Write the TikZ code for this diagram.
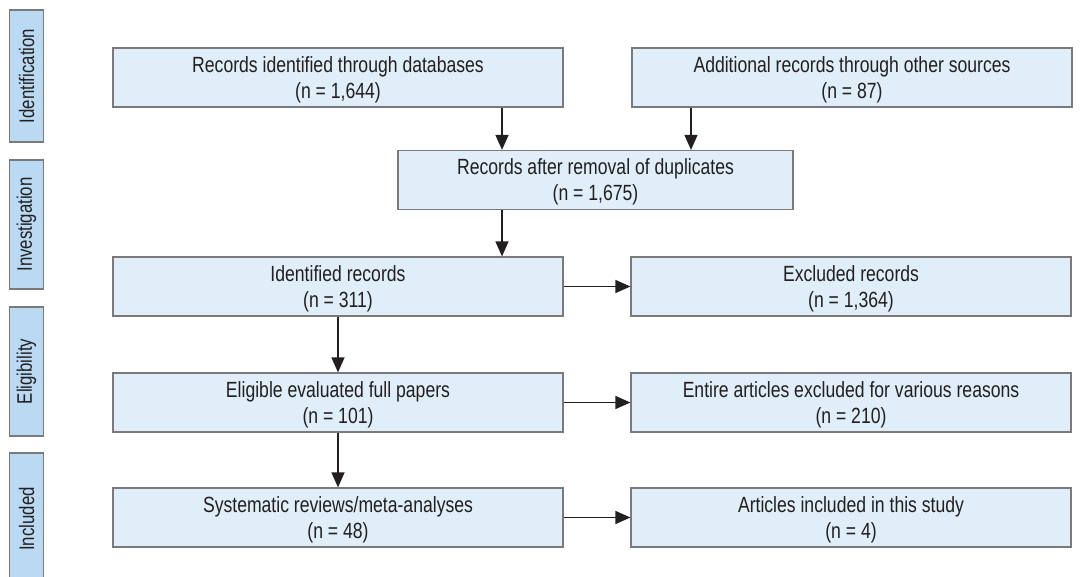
\documentclass[tikz,border=0pt]{standalone}
\usepackage{fontspec}
\setmainfont{Liberation Sans}[FakeStretch=0.8]
\usetikzlibrary{arrows.meta,positioning,calc}
\definecolor{boxfill}{HTML}{DFEEF9}
\definecolor{tabfill}{HTML}{B9DAF2}
\definecolor{edgegray}{HTML}{7A7A7A}
\definecolor{inkdark}{HTML}{231F20}

\begin{document}
\begin{tikzpicture}[x=0.5pt,y=-0.5pt,>={Triangle[length=7.5pt,width=6.5pt]}]

    \tikzstyle{commonNode}=[draw=edgegray, line width=0.6pt, align=center, text=inkdark, inner sep=0pt]
    \tikzstyle{record}=[commonNode, fill=boxfill, minimum height=29.5pt, text depth=0pt,
                        font=\fontsize{11}{13}\selectfont]
    \tikzstyle{wideRecord}=[record, minimum width=225pt]
    \tikzstyle{sideRecord}=[record, minimum width=220pt]
    \tikzstyle{dupRecord}=[record, minimum width=197.5pt]
    \tikzstyle{stage}=[commonNode, fill=tabfill, rotate=90, minimum height=17pt, font=\fontsize{10.5}{12}\selectfont]
    \tikzstyle{feed}=[<-, draw=inkdark, line width=0.65pt]

    \useasboundingbox (0,0) rectangle (1082,577);

    \begin{scope}
        % Stages
        \node at (26.5,76)    [stage, minimum width=66pt]   (ID)  {Identification};
        \node at (26.5,224.5) [stage, minimum width=64.5pt] (INV) {Investigation};
        \node at (26.5,371.5) [stage, minimum width=64.5pt] (ELI) {Eligibility};
        \node at (26.5,519)   [stage, minimum width=66pt]   (INC) {Included};

        % Records
        \node at (338,77.5)  [wideRecord] (DB)  {Records identified through databases \\ (n = 1,644)};
        \node at (852,77.5)  [sideRecord] (OS)  {Additional records through other sources \\ (n = 87)};
        \node at (595.5,180) [dupRecord]  (DUP) {Records after removal of duplicates \\ (n = 1,675)};
        \node at (338,286.5) [wideRecord] (IR)  {Identified records \\ (n = 311)};
        \node at (851,286.5) [sideRecord] (EXR) {Excluded records \\ (n = 1,364)}
            edge [feed] (IR);
        \node at (338,402.5) [wideRecord] (EL)  {Eligible evaluated full papers \\ (n = 101)}
            edge [feed] (IR);
        \node at (851,402.5) [sideRecord] (EXA) {Entire articles excluded for various reasons \\ (n = 210)}
            edge [feed] (EL);
        \node at (338,517.5) [wideRecord] (SR)  {Systematic reviews/meta-analyses \\ (n = 48)}
            edge [feed] (EL);
        \node at (851,517.5) [sideRecord] (AI)  {Articles included in this study \\ (n = 4)}
            edge [feed] (SR);

        % Merging into the duplicates box
        \coordinate (DUPinL) at ([xshift=-46.75pt]DUP.north);
        \coordinate (DUPinR) at ([xshift=47.75pt]DUP.north);
        \coordinate (IRin)   at (DUPinL |- IR.north);
        \draw [feed] (DUPinL) -- (DUPinL |- DB.south);
        \draw [feed] (DUPinR) -- (DUPinR |- OS.south);
        \draw [feed] (IRin) -- (DUPinL |- DUP.south);
    \end{scope}
\end{tikzpicture}
\end{document}
